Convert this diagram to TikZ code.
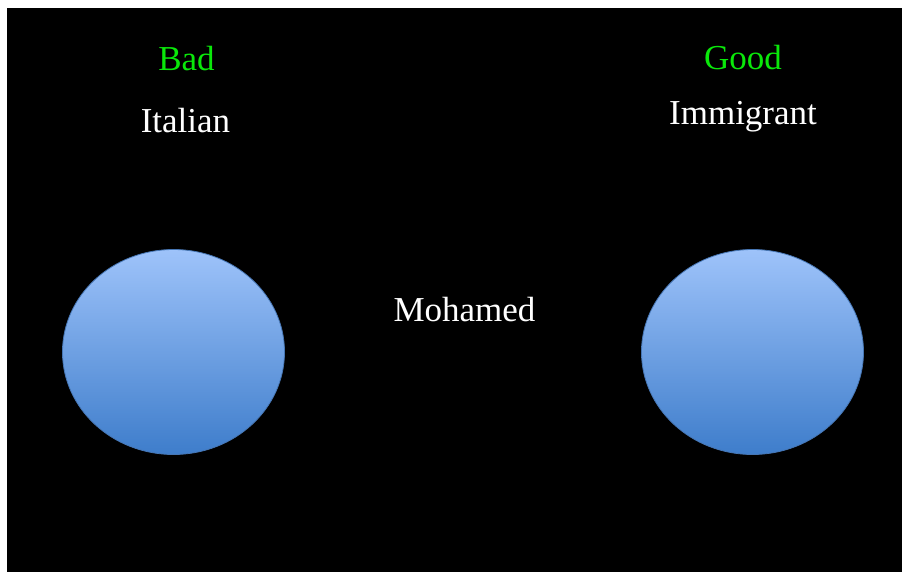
\documentclass[tikz,border=0pt]{standalone}
\usepackage{fontspec}
\setmainfont{Liberation Serif}
\usetikzlibrary{shapes.geometric}
\definecolor{badgreen}{RGB}{10,232,10}
\definecolor{bubbletop}{RGB}{158,195,250}
\definecolor{bubblebot}{RGB}{62,125,203}
\definecolor{bubbleedge}{RGB}{70,118,180}
\begin{document}
\begin{tikzpicture}[x=1pt, y=-1pt,
        word/.style={text=white, anchor=base, inner sep=0pt, font=\fontsize{35}{42}\selectfont},
        side/.style={word, text=badgreen},
        bubble/.style={ellipse, draw=bubbleedge, line width=0.8pt, top color=bubbletop, bottom color=bubblebot, minimum width=222pt, minimum height=205pt, inner sep=0pt}]
        \useasboundingbox (0, 0) rectangle (902, 572);
        \fill [white] (0, 0) rectangle (902, 572);
        \fill [black] (7, 8) rectangle (902, 572);
        \node [side] (bad) at (186.5, 70.7) {Bad};
        \node [word] (italian) at (185.5, 132.3) {Italian};
        \node [side] (good) at (743, 70) {Good};
        \node [word] (immigrant) at (743, 124.5) {Immigrant};
        \node [word] (mohamed) at (464.5, 321) {Mohamed};
        \node [bubble] (left) at (173.5, 352) {};
        \node [bubble] (right) at (752.5, 352) {};
    \end{tikzpicture}
\end{document}
